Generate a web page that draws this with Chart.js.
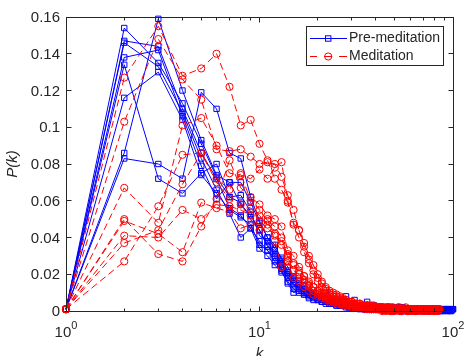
<!DOCTYPE html>
<html>
<head>
<meta charset="utf-8">
<title>P(k)</title>
<script src="https://cdn.jsdelivr.net/npm/chart.js@4.4.1/dist/chart.umd.min.js"></script>
<style>
  html, body { margin: 0; padding: 0; background: #fff; }
  #wrap { width: 464px; height: 356px; }
</style>
</head>
<body>
<div id="wrap"><canvas id="degreeChart" width="464" height="356"></canvas></div>
<script>
// degree k shared by every distribution
var degrees = [
  1, 2, 3, 4, 5, 6, 7, 8, 9, 10,
  11, 12, 13, 14, 15, 16, 17, 18, 19, 20,
  21, 22, 23, 24, 25, 26, 27, 28, 29, 30,
  31, 32, 33, 34, 35, 36, 37, 38, 39, 40,
  41, 42, 43, 44, 45, 46, 47, 48, 49, 50,
  51, 52, 53, 54, 55, 56, 57, 58, 59, 60,
  61, 62, 63, 64, 65, 66, 67, 68, 69, 70,
  71, 72, 73, 74, 75, 76, 77, 78, 79, 80,
  81, 82, 83, 84, 85, 86, 87, 88, 89, 90,
  91, 92, 93, 94, 95, 96, 97, 98, 99, 100
];

// P(k), pre-meditation sessions
var pre1 = [
  0.001, 0.083, 0.080, 0.072, 0.119, 0.110, 0.086, 0.083, 0.062, 0.049,
  0.040, 0.036, 0.028, 0.022, 0.018, 0.015, 0.012, 0.010, 0.009, 0.008,
  0.007, 0.006, 0.006, 0.005, 0.005, 0.004, 0.004, 0.004, 0.003, 0.003,
  0.003, 0.003, 0.002, 0.003, 0.002, 0.002, 0.002, 0.002, 0.002, 0.002,
  0.002, 0.001, 0.002, 0.001, 0.002, 0.001, 0.001, 0.002, 0.001, 0.001,
  0.001, 0.001, 0.001, 0.001, 0.002, 0.001, 0.001, 0.001, 0.001, 0.001,
  0.001, 0.001, 0.001, 0.001, 0.001, 0.001, 0.000, 0.001, 0.001, 0.001,
  0.001, 0.000, 0.001, 0.001, 0.001, 0.001, 0.000, 0.001, 0.001, 0.000,
  0.001, 0.001, 0.000, 0.001, 0.001, 0.001, 0.000, 0.001, 0.001, 0.001,
  0.001, 0.000, 0.001, 0.001, 0.001, 0.001, 0.000, 0.001, 0.001, 0.001
];
var pre2 = [
  0.001, 0.086, 0.159, 0.120, 0.093, 0.074, 0.070, 0.070, 0.059, 0.048,
  0.040, 0.034, 0.029, 0.024, 0.019, 0.016, 0.014, 0.011, 0.009, 0.008,
  0.008, 0.007, 0.006, 0.005, 0.005, 0.005, 0.004, 0.003, 0.004, 0.003,
  0.003, 0.002, 0.003, 0.002, 0.002, 0.003, 0.002, 0.002, 0.001, 0.002,
  0.002, 0.002, 0.001, 0.002, 0.001, 0.001, 0.002, 0.001, 0.001, 0.002,
  0.001, 0.001, 0.001, 0.002, 0.001, 0.001, 0.001, 0.001, 0.001, 0.000,
  0.001, 0.001, 0.001, 0.001, 0.000, 0.001, 0.001, 0.001, 0.001, 0.001,
  0.000, 0.001, 0.001, 0.001, 0.000, 0.001, 0.001, 0.001, 0.000, 0.001,
  0.001, 0.000, 0.001, 0.001, 0.001, 0.000, 0.001, 0.001, 0.000, 0.001,
  0.001, 0.001, 0.001, 0.000, 0.001, 0.001, 0.001, 0.000, 0.001, 0.001
];
var pre3 = [
  0.001, 0.134, 0.072, 0.064, 0.075, 0.080, 0.062, 0.063, 0.054, 0.041,
  0.038, 0.031, 0.027, 0.021, 0.017, 0.014, 0.012, 0.010, 0.009, 0.007,
  0.007, 0.006, 0.005, 0.005, 0.004, 0.004, 0.004, 0.003, 0.003, 0.003,
  0.002, 0.003, 0.002, 0.002, 0.002, 0.002, 0.002, 0.001, 0.002, 0.002,
  0.001, 0.002, 0.001, 0.001, 0.001, 0.002, 0.001, 0.001, 0.001, 0.001,
  0.001, 0.001, 0.002, 0.001, 0.001, 0.001, 0.000, 0.001, 0.001, 0.001,
  0.001, 0.001, 0.000, 0.001, 0.001, 0.001, 0.001, 0.000, 0.001, 0.001,
  0.001, 0.000, 0.001, 0.001, 0.001, 0.000, 0.001, 0.001, 0.000, 0.001
];
var pre4 = [
  0.001, 0.154, 0.135, 0.113, 0.091, 0.073, 0.062, 0.059, 0.050, 0.044,
  0.036, 0.030, 0.025, 0.020, 0.016, 0.013, 0.011, 0.009, 0.008, 0.007,
  0.006, 0.006, 0.005, 0.005, 0.004, 0.004, 0.003, 0.003, 0.003, 0.003,
  0.002, 0.002, 0.002, 0.002, 0.002, 0.002, 0.001, 0.002, 0.002, 0.001,
  0.001, 0.002, 0.001, 0.001, 0.001, 0.001, 0.002, 0.001, 0.001, 0.001,
  0.001, 0.001, 0.001, 0.000, 0.001, 0.001, 0.001, 0.001, 0.001, 0.000,
  0.001, 0.001, 0.001, 0.000, 0.001, 0.001, 0.000, 0.001, 0.001, 0.001,
  0.000, 0.001, 0.001, 0.000, 0.001
];
var pre5 = [
  0.001, 0.147, 0.144, 0.110, 0.086, 0.072, 0.056, 0.052, 0.045, 0.038,
  0.033, 0.029, 0.023, 0.018, 0.015, 0.012, 0.010, 0.009, 0.008, 0.007,
  0.006, 0.005, 0.005, 0.004, 0.004, 0.004, 0.003, 0.003, 0.003, 0.002,
  0.003, 0.002, 0.002, 0.002, 0.002, 0.001, 0.002, 0.002, 0.001, 0.001,
  0.002, 0.001, 0.001, 0.001, 0.001, 0.001, 0.001, 0.002, 0.001, 0.001,
  0.001, 0.000, 0.001, 0.001, 0.001, 0.001, 0.001, 0.000, 0.001, 0.001,
  0.001, 0.000, 0.001, 0.001, 0.001
];
var pre6 = [
  0.001, 0.146, 0.133, 0.108, 0.083, 0.066, 0.053, 0.040, 0.045, 0.034,
  0.030, 0.025, 0.021, 0.016, 0.012, 0.010, 0.009, 0.008, 0.007, 0.006,
  0.005, 0.005, 0.004, 0.004, 0.003, 0.003, 0.003, 0.003, 0.002, 0.002,
  0.002, 0.002, 0.002, 0.002, 0.001, 0.002, 0.001, 0.001, 0.002, 0.001,
  0.001, 0.001, 0.001, 0.001, 0.001, 0.001, 0.001, 0.000, 0.001, 0.001,
  0.001, 0.001, 0.000, 0.001, 0.001
];
var pre7 = [
  0.001, 0.138, 0.142, 0.106, 0.079, 0.061, 0.070, 0.058, 0.052, 0.044,
  0.035, 0.033, 0.026, 0.019, 0.014, 0.013, 0.010, 0.009, 0.010, 0.008,
  0.007, 0.010, 0.006, 0.005, 0.006, 0.004, 0.005, 0.008, 0.004, 0.003,
  0.006, 0.003, 0.003, 0.002, 0.003, 0.005, 0.002, 0.002, 0.003, 0.002,
  0.002, 0.001, 0.002, 0.002, 0.001, 0.001, 0.002, 0.001, 0.001, 0.001,
  0.001, 0.001, 0.001, 0.001, 0.000, 0.001, 0.001, 0.001, 0.001, 0.001
];
var pre8 = [
  0.001, 0.116, 0.130, 0.104, 0.074, 0.064, 0.055, 0.051, 0.047, 0.036,
  0.033, 0.027, 0.022, 0.015, 0.010, 0.011, 0.009, 0.007, 0.006, 0.006,
  0.005, 0.004, 0.004, 0.004, 0.003, 0.003, 0.003, 0.002, 0.002, 0.002,
  0.002, 0.002, 0.001, 0.002, 0.001, 0.001, 0.001, 0.002, 0.001, 0.001,
  0.001, 0.001, 0.001, 0.000, 0.001, 0.001, 0.001, 0.001, 0.000, 0.001
];

// P(k), meditation sessions
var med1 = [
  0.001, 0.127, 0.155, 0.128, 0.132, 0.140, 0.122, 0.101, 0.104, 0.091,
  0.082, 0.072, 0.066, 0.059, 0.048, 0.044, 0.035, 0.028, 0.022, 0.018,
  0.015, 0.012, 0.010, 0.009, 0.008, 0.007, 0.006, 0.006, 0.005, 0.005,
  0.004, 0.004, 0.004, 0.003, 0.003, 0.003, 0.003, 0.002, 0.003, 0.002,
  0.002, 0.002, 0.002, 0.002, 0.001, 0.002, 0.002, 0.001, 0.002, 0.001,
  0.001, 0.002, 0.001, 0.001, 0.001, 0.001, 0.002, 0.001, 0.001, 0.001,
  0.001, 0.001, 0.001, 0.000, 0.001, 0.001, 0.001, 0.001, 0.001, 0.001,
  0.000, 0.001, 0.001, 0.001, 0.001, 0.000, 0.001, 0.001, 0.001, 0.000,
  0.001, 0.001, 0.001, 0.000, 0.001
];
var med2 = [
  0.001, 0.103, 0.148, 0.126, 0.115, 0.088, 0.087, 0.088, 0.084, 0.080,
  0.081, 0.080, 0.073, 0.063, 0.055, 0.044, 0.037, 0.030, 0.025, 0.020,
  0.016, 0.013, 0.011, 0.010, 0.009, 0.008, 0.007, 0.006, 0.005, 0.005,
  0.004, 0.004, 0.004, 0.003, 0.003, 0.003, 0.002, 0.003, 0.002, 0.002,
  0.002, 0.002, 0.002, 0.001, 0.002, 0.002, 0.001, 0.002, 0.001, 0.001,
  0.001, 0.001, 0.002, 0.001, 0.001, 0.001, 0.001, 0.001, 0.000, 0.001,
  0.001, 0.001, 0.001, 0.001, 0.000, 0.001, 0.001, 0.001, 0.001, 0.000,
  0.001, 0.001, 0.001, 0.000, 0.001, 0.001, 0.001, 0.001, 0.000, 0.001,
  0.001, 0.000, 0.001, 0.001, 0.001
];
var med3 = [
  0.001, 0.067, 0.048, 0.101, 0.105, 0.090, 0.075, 0.074, 0.072, 0.077,
  0.072, 0.078, 0.081, 0.060, 0.047, 0.040, 0.032, 0.026, 0.020, 0.016,
  0.013, 0.011, 0.009, 0.008, 0.007, 0.006, 0.006, 0.005, 0.004, 0.004,
  0.004, 0.003, 0.003, 0.003, 0.002, 0.003, 0.002, 0.002, 0.002, 0.002,
  0.001, 0.002, 0.002, 0.001, 0.001, 0.002, 0.001, 0.001, 0.001, 0.001,
  0.001, 0.001, 0.001, 0.000, 0.001, 0.001, 0.001, 0.001, 0.001, 0.000,
  0.001, 0.001, 0.001, 0.000, 0.001, 0.001, 0.001, 0.000, 0.001, 0.001
];
var med4 = [
  0.001, 0.050, 0.031, 0.027, 0.046, 0.061, 0.082, 0.067, 0.062, 0.058,
  0.052, 0.050, 0.046, 0.033, 0.030, 0.024, 0.019, 0.015, 0.013, 0.011,
  0.009, 0.008, 0.007, 0.006, 0.005, 0.005, 0.004, 0.004, 0.003, 0.003,
  0.003, 0.003, 0.002, 0.002, 0.002, 0.002, 0.002, 0.001, 0.002, 0.001,
  0.001, 0.002, 0.001, 0.001, 0.001, 0.001, 0.001, 0.001, 0.000, 0.001,
  0.001, 0.001, 0.001, 0.000, 0.001, 0.001, 0.001, 0.000, 0.001, 0.001
];
var med5 = [
  0.001, 0.027, 0.057, 0.085, 0.086, 0.072, 0.066, 0.075, 0.060, 0.055,
  0.049, 0.046, 0.040, 0.029, 0.022, 0.020, 0.016, 0.014, 0.011, 0.010,
  0.008, 0.007, 0.006, 0.006, 0.005, 0.004, 0.004, 0.004, 0.003, 0.003,
  0.003, 0.002, 0.002, 0.002, 0.002, 0.002, 0.001, 0.002, 0.001, 0.001,
  0.002, 0.001, 0.001, 0.001, 0.001, 0.001, 0.000, 0.001, 0.001, 0.001,
  0.001, 0.001, 0.000, 0.001, 0.001, 0.001, 0.001, 0.000, 0.001, 0.001,
  0.001, 0.000, 0.001, 0.001, 0.001
];
var med6 = [
  0.001, 0.049, 0.042, 0.032, 0.059, 0.056, 0.054, 0.045, 0.047, 0.049,
  0.045, 0.041, 0.036, 0.030, 0.026, 0.021, 0.017, 0.014, 0.011, 0.009,
  0.008, 0.007, 0.006, 0.005, 0.005, 0.004, 0.004, 0.003, 0.003, 0.003,
  0.002, 0.002, 0.002, 0.002, 0.002, 0.001, 0.002, 0.001, 0.001, 0.001,
  0.001, 0.001, 0.001, 0.001, 0.000, 0.001, 0.001, 0.001, 0.001, 0.000,
  0.001, 0.001, 0.001, 0.000, 0.001
];
var med7 = [
  0.001, 0.041, 0.040, 0.055, 0.050, 0.058, 0.057, 0.055, 0.052, 0.044,
  0.050, 0.038, 0.024, 0.027, 0.018, 0.016, 0.013, 0.011, 0.009, 0.008,
  0.007, 0.006, 0.005, 0.005, 0.004, 0.004, 0.003, 0.003, 0.003, 0.002,
  0.002, 0.002, 0.002, 0.002, 0.001, 0.002, 0.001, 0.001, 0.001, 0.001,
  0.001, 0.001, 0.000, 0.001, 0.001, 0.001, 0.001, 0.000, 0.001, 0.001
];
var med8 = [
  0.001, 0.037, 0.044, 0.069, 0.086, 0.070, 0.061, 0.058, 0.056, 0.052,
  0.047, 0.042, 0.038, 0.031, 0.025, 0.022, 0.019, 0.016, 0.013, 0.011,
  0.010, 0.008, 0.007, 0.006, 0.006, 0.005, 0.004, 0.004, 0.004, 0.003,
  0.003, 0.003, 0.002, 0.002, 0.002, 0.002, 0.002, 0.001, 0.002, 0.001,
  0.001, 0.001, 0.002, 0.001, 0.001, 0.001, 0.001, 0.000, 0.001, 0.001,
  0.001, 0.001, 0.001, 0.000, 0.001, 0.001, 0.001, 0.000, 0.001, 0.001
];

var preSeries = [pre1, pre2, pre3, pre4, pre5, pre6, pre7, pre8];
var medSeries = [med1, med2, med3, med4, med5, med6, med7, med8];

var yTicks = [0, 0.02, 0.04, 0.06, 0.08, 0.1, 0.12, 0.14, 0.16];
var yTickLabels = ['0', '0.02', '0.04', '0.06', '0.08', '0.1', '0.12', '0.14', '0.16'];
var xMajor = [1, 10, 100];
var xExponents = ['0', '1', '2'];
var xMinor = [2, 3, 4, 5, 6, 7, 8, 9, 20, 30, 40, 50, 60, 70, 80, 90];
var legendLabels = ['Pre-meditation', 'Meditation'];

var BLUE = '#0000ff';
var RED = '#ff0000';
var INK = '#262626';
var FONT = '"Liberation Sans", Arial, sans-serif';

function toPoints(values) {
  return values.map(function (p, i) {
    return { x: degrees[i], y: p };
  });
}

var datasets = [];
preSeries.forEach(function (s) {
  datasets.push({
    data: toPoints(s),
    showLine: true,
    borderColor: BLUE,
    borderWidth: 1,
    pointStyle: 'rect',
    pointRadius: 3.8,
    pointBorderWidth: 1,
    pointBorderColor: BLUE,
    pointBackgroundColor: 'rgba(0,0,0,0)',
    order: 2,
    clip: false
  });
});
medSeries.forEach(function (s) {
  datasets.push({
    data: toPoints(s),
    showLine: true,
    borderColor: RED,
    borderWidth: 1,
    borderDash: [7, 4],
    pointStyle: 'circle',
    pointRadius: 3.6,
    pointBorderWidth: 1,
    pointBorderColor: RED,
    pointBackgroundColor: 'rgba(0,0,0,0)',
    order: 1,
    clip: false
  });
});

// box, inward ticks, tick labels, axis titles and legend
var axesPlugin = {
  id: 'matlabAxes',
  afterDraw: function (chart) {
    var ctx = chart.ctx;
    var a = chart.chartArea;
    var xs = chart.scales.x;
    var ys = chart.scales.y;
    var L = Math.floor(a.left) + 0.5, R = Math.floor(a.right) + 0.5;
    var T = Math.floor(a.top) + 0.5, B = Math.floor(a.bottom) + 0.5;

    ctx.save();
    ctx.strokeStyle = INK;
    ctx.lineWidth = 1;
    ctx.setLineDash([]);
    ctx.strokeRect(L, T, R - L, B - T);

    ctx.beginPath();
    yTicks.forEach(function (v) {
      var y = Math.floor(ys.getPixelForValue(v)) + 0.5;
      ctx.moveTo(L, y); ctx.lineTo(L + 5, y);
      ctx.moveTo(R, y); ctx.lineTo(R - 5, y);
    });
    xMajor.forEach(function (v) {
      var x = Math.floor(xs.getPixelForValue(v)) + 0.5;
      ctx.moveTo(x, B); ctx.lineTo(x, B - 5);
      ctx.moveTo(x, T); ctx.lineTo(x, T + 5);
    });
    xMinor.forEach(function (v) {
      var x = Math.floor(xs.getPixelForValue(v)) + 0.5;
      ctx.moveTo(x, B); ctx.lineTo(x, B - 3);
      ctx.moveTo(x, T); ctx.lineTo(x, T + 3);
    });
    ctx.stroke();

    ctx.fillStyle = INK;
    ctx.font = '15px ' + FONT;
    ctx.textAlign = 'right';
    ctx.textBaseline = 'middle';
    yTicks.forEach(function (v, i) {
      ctx.fillText(yTickLabels[i], a.left - 6, ys.getPixelForValue(v) + 1);
    });

    xMajor.forEach(function (v, i) {
      var x = xs.getPixelForValue(v);
      ctx.font = '15px ' + FONT;
      var wBase = ctx.measureText('10').width;
      ctx.font = '11px ' + FONT;
      var wExp = ctx.measureText(xExponents[i]).width;
      var x0 = x - (wBase + wExp) / 2;
      ctx.textAlign = 'left';
      ctx.textBaseline = 'alphabetic';
      ctx.font = '15px ' + FONT;
      ctx.fillText('10', x0, a.bottom + 26);
      ctx.font = '11px ' + FONT;
      ctx.fillText(xExponents[i], x0 + wBase, a.bottom + 17.5);
    });

    ctx.font = 'italic 15px ' + FONT;
    ctx.textAlign = 'center';
    ctx.textBaseline = 'alphabetic';
    ctx.fillText('k', (a.left + a.right) / 2, a.bottom + 47);

    ctx.save();
    ctx.translate(13, (a.top + a.bottom) / 2);
    ctx.rotate(-Math.PI / 2);
    ctx.textBaseline = 'middle';
    ctx.fillText('P(k)', 0, 0);
    ctx.restore();

    // legend box
    var lx = 306.5, ly = 26.5, lw = 137, lh = 39;
    ctx.fillStyle = '#fff';
    ctx.fillRect(lx, ly, lw, lh);
    ctx.strokeStyle = INK;
    ctx.strokeRect(lx, ly, lw, lh);

    var rowY = [38.5, 56.5];
    ctx.lineWidth = 1;
    ctx.strokeStyle = BLUE;
    ctx.beginPath();
    ctx.moveTo(310, rowY[0]); ctx.lineTo(347, rowY[0]);
    ctx.stroke();
    ctx.strokeRect(325.5, rowY[0] - 2.7, 5.4, 5.4);

    ctx.strokeStyle = RED;
    ctx.beginPath();
    ctx.moveTo(310, rowY[1]); ctx.lineTo(317, rowY[1]);
    ctx.moveTo(324, rowY[1]); ctx.lineTo(332, rowY[1]);
    ctx.moveTo(339, rowY[1]); ctx.lineTo(347, rowY[1]);
    ctx.stroke();
    ctx.beginPath();
    ctx.arc(328.2, rowY[1], 3.6, 0, Math.PI * 2);
    ctx.stroke();

    ctx.fillStyle = INK;
    ctx.font = '14px ' + FONT;
    ctx.textAlign = 'left';
    ctx.textBaseline = 'middle';
    ctx.fillText(legendLabels[0], 349, rowY[0]);
    ctx.fillText(legendLabels[1], 349, rowY[1]);
    ctx.restore();
  }
};

new Chart(document.getElementById('degreeChart'), {
  type: 'scatter',
  data: { datasets: datasets },
  options: {
    responsive: false,
    animation: false,
    layout: { padding: { left: 66, right: 11, top: 17, bottom: 45 } },
    plugins: { legend: { display: false }, tooltip: { enabled: false } },
    scales: {
      x: { type: 'logarithmic', min: 1, max: 100, display: false },
      y: { type: 'linear', min: 0, max: 0.16, display: false }
    }
  },
  plugins: [axesPlugin]
});
</script>
</body>
</html>
